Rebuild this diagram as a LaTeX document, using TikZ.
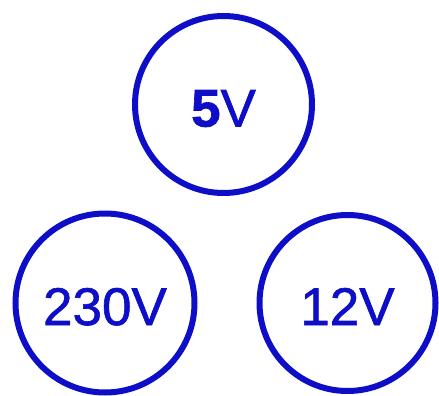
\documentclass[tikz,border=0pt]{standalone}
\usepackage{fontspec}
\setmainfont{Liberation Sans}
\newfontfamily\voltfont[FakeBold=1.2]{Liberation Sans}
\definecolor{vblue}{RGB}{14,14,200}
\begin{document}
\begin{tikzpicture}[x=1pt,y=-1pt,
  volt/.style={circle,draw=vblue,line width=6pt,text=vblue,inner sep=0pt,
    text height=44pt,text depth=0pt,
    font=\voltfont\fontsize{53}{53}\selectfont}]
\useasboundingbox (0,0) rectangle (439,396);
\node[volt,minimum size=177pt] (five) at (223.5,104.5) {{\bfseries 5}V};
\node[volt,minimum size=179pt] (twothirty) at (105,303) {230V};
\node[volt,minimum size=176pt] (twelve) at (347.5,303) {12V};
\end{tikzpicture}
\end{document}
